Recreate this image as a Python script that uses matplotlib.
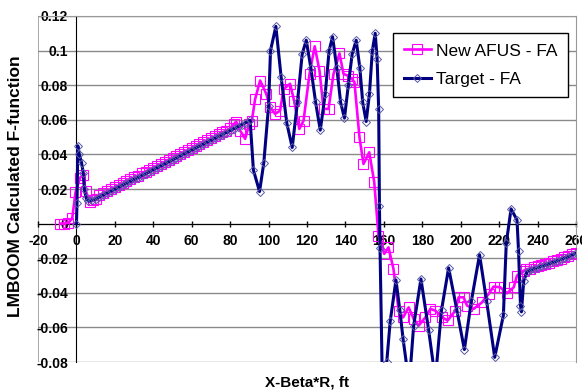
import matplotlib
matplotlib.use("Agg")
import matplotlib.pyplot as plt

plt.rcParams['font.family'] = ['Liberation Sans', 'DejaVu Sans']

# New AFUS - FA
afus_x = [-8.5, -6.5, -4.2, -2.2, -0.5, 1.9, 3.4, 4.8, 7.1, 8.8,
          10, 12, 14, 16, 18, 20, 22, 24, 26, 28, 30, 32, 34, 36, 38, 40, 42, 44,
          46, 48, 50, 52, 54, 56, 58, 60, 62, 64, 66, 68, 70, 72, 74, 76, 78, 80,
          82, 83.1, 85.2, 87.8, 90, 91.3, 93, 95.6, 98.8, 100.8, 103.4, 106, 107.8,
          111.2, 113.3, 116, 118.2, 121.3, 124, 126.5, 128.6, 131.2, 133.8, 136.9,
          139, 141.3, 143.4, 144.7, 147.3, 149.4, 152.4, 155, 157.2, 160.2, 162.4,
          165, 167.7, 170, 172.9, 175.5, 178.1, 181.6, 184.2, 186.8, 190.3, 193.2,
          197.2, 198.9, 201.5, 203.3, 206.7, 211.1, 214.5, 217.1, 220.6, 224.1,
          227.6, 229.3, 232.8, 234, 236, 238, 240, 242, 244, 246, 248, 250, 252,
          254, 256, 258, 260]
afus_y = [0.0, 0.0, 0.0005, 0.003, 0.018, 0.0265, 0.028, 0.019, 0.0125, 0.0135,
          0.0145, 0.0165, 0.0177, 0.0188, 0.0199, 0.021, 0.0222, 0.0233, 0.0244,
          0.0256, 0.0267, 0.0278, 0.029, 0.0301, 0.0312, 0.0324, 0.0335, 0.0346,
          0.0357, 0.0369, 0.038, 0.0391, 0.0403, 0.0414, 0.0425, 0.0437, 0.0448,
          0.0459, 0.047, 0.0482, 0.0493, 0.0504, 0.0516, 0.0527, 0.0538, 0.055,
          0.0575, 0.059, 0.0538, 0.049, 0.0576, 0.0595, 0.072, 0.0827, 0.075,
          0.0672, 0.0634, 0.0653, 0.0778, 0.0808, 0.071, 0.0547, 0.0595, 0.0865,
          0.1025, 0.0884, 0.0663, 0.0663, 0.0865, 0.0984, 0.0865, 0.0855, 0.0836,
          0.0817, 0.05, 0.0345, 0.0412, 0.0239, -0.0069, -0.0175, -0.0137,
          -0.0262, -0.0503, -0.0542, -0.0484, -0.0551, -0.059, -0.0542, -0.0493,
          -0.0503, -0.0542, -0.056, -0.0503, -0.0426, -0.0426, -0.0474, -0.0493,
          -0.0455, -0.0407, -0.0364, -0.0368, -0.0403, -0.0368, -0.030, -0.0272,
          -0.0265, -0.026, -0.0253, -0.0245, -0.0238, -0.0232, -0.0225, -0.0218,
          -0.021, -0.0203, -0.0195, -0.0187, -0.0178, -0.0168]

# Target - FA
target_x = [0, 0.3, 0.7, 1.5, 2.7, 3.6, 4.1, 5.0, 6.2, 8,
            10, 12, 14, 16, 18, 20, 22, 24, 26, 28, 30, 32, 34, 36, 38, 40, 42,
            44, 46, 48, 50, 52, 54, 56, 58, 60, 62, 64, 66, 68, 70, 72, 74, 76,
            78, 80, 82, 84, 86, 88, 90.4, 92.1, 95.3, 97.5, 100.0, 101.0, 103.8,
            106.5, 109.5, 112.3, 115, 117.5, 119.6, 122, 124.5, 126.9, 129.5,
            131.5, 133.3, 135.5, 137.5, 139.5, 141.5, 143.5, 145.6, 147.5, 149,
            150.8, 152.5, 154, 155.5, 156.5, 157.3, 157.7, 158.0, 159.5, 161.5,
            163.3, 166.3, 168.3, 170, 173.2, 175.5, 179.3, 183.3, 186.8, 190,
            193.7, 198, 201.9, 205.5, 209.8, 213.5, 217.7, 222.2, 223.7, 226.2,
            229.3, 230.1, 231.1, 231.6, 232.8, 234.5, 236, 238, 240, 242, 244,
            246, 248, 250, 252, 254, 256, 258, 260]
target_y = [0.0, 0.012, 0.045, 0.040, 0.035, 0.029, 0.020, 0.015, 0.013, 0.0135,
            0.0142, 0.0153, 0.0165, 0.0176, 0.0187, 0.0198, 0.021, 0.0221,
            0.0232, 0.0244, 0.0255, 0.0266, 0.0278, 0.0289, 0.03, 0.0312, 0.0323,
            0.0334, 0.0345, 0.0357, 0.0368, 0.0379, 0.0391, 0.0402, 0.0413,
            0.0425, 0.0436, 0.0447, 0.0458, 0.047, 0.0481, 0.0492, 0.0504,
            0.0515, 0.0526, 0.0538, 0.0549, 0.056, 0.0572, 0.0583, 0.0597, 0.031,
            0.0185, 0.035, 0.068, 0.100, 0.114, 0.085, 0.058, 0.044, 0.070, 0.098,
            0.106, 0.09, 0.07, 0.054, 0.075, 0.1, 0.108, 0.09, 0.07, 0.061, 0.08,
            0.098, 0.106, 0.09, 0.07, 0.059, 0.075, 0.1, 0.110, 0.095, 0.066,
            0.01, -0.014, -0.11, -0.08, -0.0565, -0.0326, -0.05, -0.0667, -0.093,
            -0.059, -0.032, -0.0615, -0.09, -0.05, -0.0256, -0.05, -0.0728,
            -0.045, -0.018, -0.045, -0.0773, -0.053, -0.0114, 0.0085, 0.0021,
            -0.016, -0.0474, -0.051, -0.033, -0.028, -0.027, -0.0262, -0.0255,
            -0.0247, -0.024, -0.0232, -0.0224, -0.0216, -0.0208, -0.02, -0.0192,
            -0.0182, -0.0172]

yticks = [-0.08, -0.06, -0.04, -0.02, 0, 0.02, 0.04, 0.06, 0.08, 0.1, 0.12]
ytick_labels = ['-0.08', '-0.06', '-0.04', '-0.02', '0', '0.02', '0.04',
                '0.06', '0.08', '0.1', '0.12']
xticks = list(range(-20, 261, 20))

fig = plt.figure(figsize=(5.82, 3.92), dpi=100)
ax = fig.add_axes([0.0653, 0.0765, 0.9244, 0.8827])

ax.plot(afus_x, afus_y, color='#FF00FF', lw=1.9, marker='s', ms=6.5,
        mfc='none', mec='#FF00FF', mew=0.8, label='New AFUS - FA', zorder=3)
ax.plot(target_x, target_y, color='#000080', lw=2.2, marker='D', ms=4,
        mfc='none', mec='#5a5aa8', mew=0.7, label='Target - FA', zorder=4)

ax.set_xlim(-20, 260)
ax.set_ylim(-0.08, 0.12)
ax.set_yticks(yticks)
ax.set_yticklabels(ytick_labels)
ax.set_xticks(xticks)
ax.set_xticklabels([str(v) for v in xticks])

# Excel style: axes cross at zero, gray plot-area border
ax.spines['left'].set_position(('data', 0))
ax.spines['bottom'].set_position(('data', 0))
ax.spines['left'].set_color('black')
ax.spines['bottom'].set_color('black')
for s in ['top', 'right']:
    ax.spines[s].set_color('#999999')
ax.axvline(-20, color='#999999', lw=1.2, zorder=0)
ax.yaxis.grid(True, color='#8a8a8a', lw=1.0)
ax.set_axisbelow(True)

ax.tick_params(axis='x', direction='inout', length=5, width=1, pad=5,
               labelsize=10)
ax.tick_params(axis='y', length=0, pad=6, labelsize=10)
for lab in ax.get_xticklabels() + ax.get_yticklabels():
    lab.set_fontweight('bold')

leg = ax.legend(loc='upper left', bbox_to_anchor=(0.66, 0.951), fontsize=12.5,
                fancybox=False, edgecolor='black', framealpha=1,
                handlelength=1.6, handletextpad=0.3, labelspacing=0.75,
                borderpad=0.6, borderaxespad=0)
leg.get_frame().set_linewidth(1.0)

fig.text(0.026, 0.525, 'LMBOOM Calculated F-function', rotation=90,
         ha='center', va='center', fontsize=12.5, fontweight='bold')
fig.text(0.528, 0.023, 'X-Beta*R, ft', ha='center', va='center',
         fontsize=11, fontweight='bold')

fig.savefig('out.png', dpi=100)
